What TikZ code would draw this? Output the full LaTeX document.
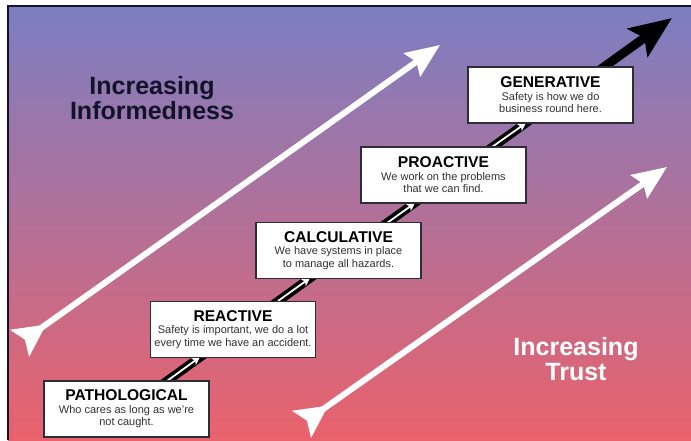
\documentclass[tikz,border=0pt]{standalone}
\usepackage{fontspec}
\setmainfont{Liberation Sans}
\usetikzlibrary{arrows.meta}
\definecolor{bgtop}{RGB}{124,126,194}
\definecolor{bgmid}{RGB}{156,122,184}
\definecolor{bgbot}{RGB}{234,98,108}
\definecolor{navytext}{RGB}{18,18,40}
\definecolor{bodygray}{RGB}{50,50,50}
\definecolor{boxline}{RGB}{45,45,55}
\begin{document}
\begin{tikzpicture}[x=1pt,y=-1pt,
  stagebox/.style={draw=boxline, line width=1.3pt, fill=white, minimum width=165pt,
    minimum height=56pt, inner sep=0pt, align=center,
    font=\fontsize{11}{12.5}\selectfont, text=bodygray},
  biglabel/.style={font=\fontsize{25}{25}\selectfont\bfseries, align=center},
  whitearrow/.style={white, line width=6pt,
    {Stealth[reversed, length=32pt, width=32pt, inset=6pt]}-{Stealth[length=34pt, width=28pt, inset=5pt]}},
  innerarrow/.style={white, line width=1.8pt, -{Stealth[length=8pt, width=8pt, inset=2pt]}}
]
\useasboundingbox (0,0) rectangle (691,440);
\fill[white] (0,0) rectangle (691,440);
\shade[top color=bgtop, middle color=bgmid, bottom color=bgbot] (8,6) rectangle (691,440);
\draw[line width=1.2pt, navytext] (8,440) -- (8,6) -- (691,6);

% white arrows
\coordinate (lt) at (20,343);
\coordinate (lh) at (440,45);
\draw[whitearrow] (lt) -- (lh);
\coordinate (rt) at (302,424);
\coordinate (rh) at (667,167);
\draw[whitearrow] (rt) -- (rh);

% black arrow
\coordinate (o) at (128,409);
\coordinate (btip) at (672,18);
\draw[black, line width=9pt, -{Stealth[length=42pt, width=34pt, inset=8pt]}] (o) -- (btip);

% inner white arrows
\coordinate (w1s) at (167,381); \coordinate (w1e) at (200,357);
\coordinate (w2s) at (278,301); \coordinate (w2e) at (310,278);
\coordinate (w3s) at (387,223); \coordinate (w3e) at (415,203);
\coordinate (w4s) at (492,147); \coordinate (w4e) at (526,123);
\draw[innerarrow] (w1s) -- (w1e);
\draw[innerarrow] (w2s) -- (w2e);
\draw[innerarrow] (w3s) -- (w3e);
\draw[innerarrow] (w4s) -- (w4e);

% boxes
\node[stagebox] (path) at (126.5,409) {{\fontsize{15.6}{13}\selectfont\bfseries\color{black}PATHOLOGICAL}\\Who cares as long as we’re\\not caught.};
\node[stagebox] (reac) at (233,329.5) {{\fontsize{15.6}{13}\selectfont\bfseries\color{black}REACTIVE}\\Safety is important, we do a lot\\every time we have an accident.};
\node[stagebox] (calc) at (338.5,250.5) {{\fontsize{15.6}{13}\selectfont\bfseries\color{black}CALCULATIVE}\\We have systems in place\\to manage all hazards.};
\node[stagebox] (pro) at (443.5,175) {{\fontsize{15.6}{13}\selectfont\bfseries\color{black}PROACTIVE}\\We work on the problems\\that we can find.};
\node[stagebox] (gen) at (550.5,95) {{\fontsize{15.6}{13}\selectfont\bfseries\color{black}GENERATIVE}\\Safety is how we do\\business round here.};

% labels
\node[biglabel, text=navytext] (inf) at (152,98) {Increasing\\Informedness};
\node[biglabel, text=white] (trust) at (576,359) {Increasing\\Trust};
\end{tikzpicture}
\end{document}
